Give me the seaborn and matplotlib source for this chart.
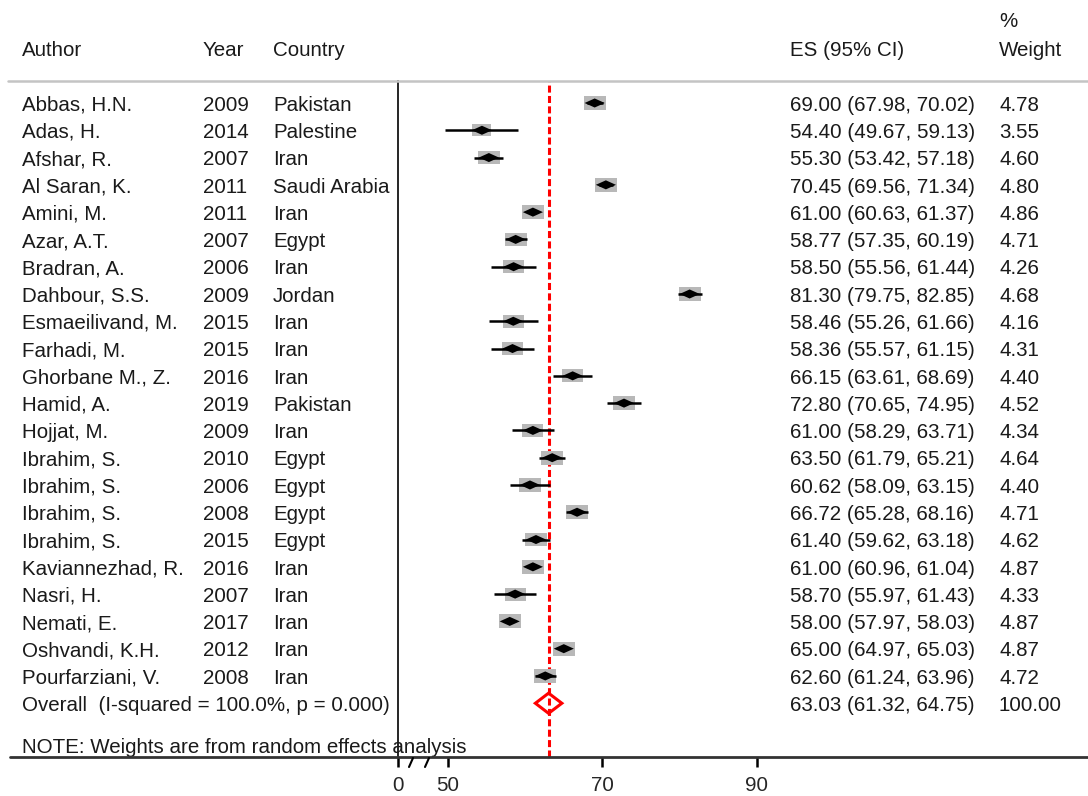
import numpy as np
import pandas as pd
import matplotlib
matplotlib.use("Agg")
import matplotlib.pyplot as plt
from matplotlib.path import Path
from matplotlib.lines import Line2D
from matplotlib import transforms
import seaborn as sns

# study data
authors = ["Abbas, H.N.", "Adas, H.", "Afshar, R.", "Al Saran, K.", "Amini, M.", "Azar, A.T.",
           "Bradran, A.", "Dahbour, S.S.", "Esmaeilivand, M.", "Farhadi, M.", "Ghorbane M., Z.",
           "Hamid, A.", "Hojjat, M.", "Ibrahim, S.", "Ibrahim, S.", "Ibrahim, S.", "Ibrahim, S.",
           "Kaviannezhad, R.", "Nasri, H.", "Nemati, E.", "Oshvandi, K.H.", "Pourfarziani, V."]
years = [2009, 2014, 2007, 2011, 2011, 2007, 2006, 2009, 2015, 2015, 2016,
         2019, 2009, 2010, 2006, 2008, 2015, 2016, 2007, 2017, 2012, 2008]
countries = ["Pakistan", "Palestine", "Iran", "Saudi Arabia", "Iran", "Egypt", "Iran", "Jordan",
             "Iran", "Iran", "Iran", "Pakistan", "Iran", "Egypt", "Egypt", "Egypt", "Egypt",
             "Iran", "Iran", "Iran", "Iran", "Iran"]
es = [69.00, 54.40, 55.30, 70.45, 61.00, 58.77, 58.50, 81.30, 58.46, 58.36, 66.15,
      72.80, 61.00, 63.50, 60.62, 66.72, 61.40, 61.00, 58.70, 58.00, 65.00, 62.60]
ci_lo = [67.98, 49.67, 53.42, 69.56, 60.63, 57.35, 55.56, 79.75, 55.26, 55.57, 63.61,
         70.65, 58.29, 61.79, 58.09, 65.28, 59.62, 60.96, 55.97, 57.97, 64.97, 61.24]
ci_hi = [70.02, 59.13, 57.18, 71.34, 61.37, 60.19, 61.44, 82.85, 61.66, 61.15, 68.69,
         74.95, 63.71, 65.21, 63.15, 68.16, 63.18, 61.04, 61.43, 58.03, 65.03, 63.96]
weights = [4.78, 3.55, 4.60, 4.80, 4.86, 4.71, 4.26, 4.68, 4.16, 4.31, 4.40,
           4.52, 4.34, 4.64, 4.40, 4.71, 4.62, 4.87, 4.33, 4.87, 4.87, 4.72]
overall_es, overall_lo, overall_hi = 63.03, 61.32, 64.75
overall_weight = "100.00"
overall_label = "Overall  (I-squared = 100.0%, p = 0.000)"
note_label = "NOTE: Weights are from random effects analysis"
tick_values = [50, 70, 90]
tick_labels = ["50", "70", "90"]

df = pd.DataFrame({"author": authors, "year": years, "country": countries,
                   "es": es, "lo": ci_lo, "hi": ci_hi, "weight": weights})
df["row"] = np.arange(len(df))
overall_row = len(df)
note_row = overall_row + 1.55

sns.set_theme(style="white")
plt.rcParams['font.family'] = ['Liberation Sans', 'DejaVu Sans']
FS = 14.8
W, H = 1088, 796
DY = 0.08  # small nudge so text sits on the row centre

fig = plt.figure(figsize=(W / 100, H / 100), dpi=100)
# plot panel sits between the divider line and the ES column
ax = fig.add_axes([398 / W, 1 - 757 / H, (780 - 398) / W, (757 - 81) / H])
x_left, x_right = 43.53, 93.0
ax.set_xlim(x_left, x_right)
ax.set_ylim(23.97, -0.806)

box_marker = Path([(-1.6, -1), (1.6, -1), (1.6, 1), (-1.6, 1), (-1.6, -1)], closed=True)
dot_marker = Path([(-1, 0), (0, 0.45), (1, 0), (0, -0.45), (-1, 0)], closed=True)

# weight boxes
sns.scatterplot(data=df, x="es", y="row", size="weight", sizes=(260 * 3.55 / 4.87, 260),
                marker=box_marker, color="#b8b8b8", edgecolor="none", legend=False,
                ax=ax, zorder=2)
# confidence intervals
ax.hlines(df["row"], df["lo"], df["hi"], color="black", lw=1.8, zorder=3)
# point estimates
sns.scatterplot(data=df, x="es", y="row", marker=dot_marker, s=210, color="black",
                edgecolor="none", legend=False, ax=ax, zorder=4)

# overall line and diamond
ax.axvline(overall_es, color="#ff0000", lw=2.2, ls=(0, (2.3, 1.1)), zorder=1)
half_h = 0.37
ax.fill([overall_lo, overall_es, overall_hi, overall_es, overall_lo],
        [overall_row, overall_row - half_h, overall_row, overall_row + half_h, overall_row],
        fill=False, edgecolor="#ff0000", lw=2.2, zorder=5)

# axes styling
for side in ["top", "right", "bottom"]:
    ax.spines[side].set_visible(False)
ax.spines["left"].set_color("black")
ax.spines["left"].set_linewidth(1.2)
ax.set_yticks([])
ax.set_xticks([x_left] + tick_values)
ax.set_xticklabels(["0"] + tick_labels, fontsize=FS)
ax.tick_params(axis="x", direction="out", length=7.5, width=1.8, color="black", pad=6,
               bottom=True)
ax.set_xlabel("")
ax.set_ylabel("")

# horizontal rules and axis break marks
fig.add_artist(Line2D([8 / W, 1], [1 - 81 / H] * 2, color="#c4c4c4", lw=1.8))
fig.add_artist(Line2D([10 / W, 1], [1 - 757 / H] * 2, color="#333333", lw=2.0))
for bx in [409, 425]:
    fig.add_artist(Line2D([bx / W, (bx + 4) / W], [1 - 767 / H, 1 - 758 / H],
                          color="black", lw=1.5))

# text columns
tr = transforms.blended_transform_factory(fig.transFigure, ax.transData)
col_author, col_year, col_country, col_es, col_wt = 22 / W, 203 / W, 273 / W, 790 / W, 999 / W


def put(x, y, s):
    ax.text(x, y + DY, s, transform=tr, fontsize=FS, va="center", color="#1a1a1a")


hdr_y = -2.02
put(col_author, hdr_y, "Author")
put(col_year, hdr_y, "Year")
put(col_country, hdr_y, "Country")
put(col_es, hdr_y, "ES (95% CI)")
put(col_wt, hdr_y, "Weight")
put(col_wt, -3.05, "%")

for _, r in df.iterrows():
    put(col_author, r["row"], r["author"])
    put(col_year, r["row"], str(r["year"]))
    put(col_country, r["row"], r["country"])
    put(col_es, r["row"], f"{r['es']:.2f} ({r['lo']:.2f}, {r['hi']:.2f})")
    put(col_wt, r["row"], f"{r['weight']:.2f}")

put(col_author, overall_row, overall_label)
put(col_es, overall_row, f"{overall_es:.2f} ({overall_lo:.2f}, {overall_hi:.2f})")
put(col_wt, overall_row, overall_weight)
put(col_author, note_row, note_label)

fig.savefig("out.png", dpi=100)
plt.close(fig)
